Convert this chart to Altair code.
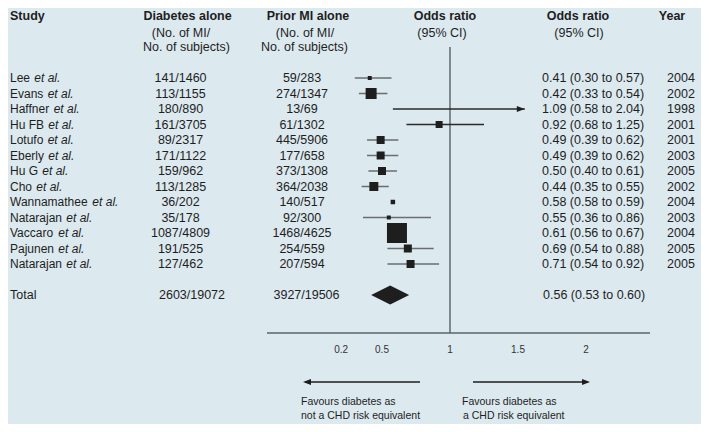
import altair as alt
import pandas as pd

# ---------------- data ----------------
study = ["Lee", "Evans", "Haffner", "Hu FB", "Lotufo", "Eberly", "Hu G", "Cho",
         "Wannamathee", "Natarajan", "Vaccaro", "Pajunen", "Natarajan"]
diabetes = ["141/1460", "113/1155", "180/890", "161/3705", "89/2317", "171/1122",
            "159/962", "113/1285", "36/202", "35/178", "1087/4809", "191/525", "127/462"]
prior_mi = ["59/283", "274/1347", "13/69", "61/1302", "445/5906", "177/658",
            "373/1308", "364/2038", "140/517", "92/300", "1468/4625", "254/559", "207/594"]
odds = [0.41, 0.42, 1.09, 0.92, 0.49, 0.49, 0.50, 0.44, 0.58, 0.55, 0.61, 0.69, 0.71]
ci_low = [0.30, 0.33, 0.58, 0.68, 0.39, 0.39, 0.40, 0.35, 0.58, 0.36, 0.56, 0.54, 0.54]
ci_high = [0.57, 0.54, 2.04, 1.25, 0.62, 0.62, 0.61, 0.55, 0.59, 0.86, 0.67, 0.88, 0.92]
year = [2004, 2002, 1998, 2001, 2001, 2003, 2005, 2002, 2004, 2003, 2004, 2005, 2005]
weight = [16, 121, 0, 49, 64, 64, 64, 81, 20, 16, 400, 64, 64]

total_diabetes = "2603/19072"
total_prior = "3927/19506"
total_or, total_lo, total_hi = 0.56, 0.53, 0.60

tick_values = [0.2, 0.5, 1, 1.5, 2]
tick_labels = ["0.2", "0.5", "1", "1.5", "2"]
display_max = 1.55  # CI drawn clipped with an arrow beyond this

# ---------------- style / layout ----------------
BG = "#dce9ef"
INK = "#1e1e1e"
FONT = "Liberation Sans"
W, H = 693, 416

# x scale: OR units; 1 at px 442, 136 px per unit
X0 = 1 - 442 / 136
X1 = X0 + W / 136
xs = alt.Scale(domain=[X0, X1], nice=False, zero=False)
# y scale: row index; row 0 at px 70, 15.5 px per row
Y0 = -70 / 15.5
Y1 = Y0 + H / 15.5
ys = alt.Scale(domain=[Y0, Y1], nice=False, zero=False, reverse=True)

ARIAL = {" ": 278, ".": 278, "/": 278, "A": 667, "B": 667, "C": 722, "D": 722, "E": 667,
         "F": 611, "G": 778, "H": 722, "L": 556, "N": 722, "P": 667, "V": 667, "W": 944,
         "T": 611, "a": 556, "b": 556, "c": 500, "d": 556, "e": 556, "f": 278, "h": 556,
         "i": 222, "j": 222, "k": 500, "l": 222, "m": 833, "n": 556, "o": 556, "p": 556,
         "r": 333, "s": 500, "t": 278, "u": 556, "v": 500, "y": 500}


def text_width(s, size):
    return sum(ARIAL.get(c, 556) for c in s) * size / 1000


STUDY_FS = 12
BODY_FS = 12.5
STUDY_X = 2

rows = pd.DataFrame({
    "row": list(range(len(study))),
    "study": study,
    "etal_x": [STUDY_X + text_width(s + " ", STUDY_FS) + 1 for s in study],
    "diabetes": diabetes,
    "prior": prior_mi,
    "odds": odds,
    "lo": ci_low,
    "hi_draw": [min(h, display_max) for h in ci_high],
    "ci_color": ["#2a2a2a" if h > 1 else "#6a6e70" for h in ci_high],
    "label": [f"{o:.2f} ({l:.2f} to {h:.2f})" for o, l, h in zip(odds, ci_low, ci_high)],
    "year": [str(y) for y in year],
    "weight": weight,
})
total_row = len(study) + 1
total = pd.DataFrame({"row": [total_row], "odds": [total_or],
                      "label": [f"{total_or:.2f} ({total_lo:.2f} to {total_hi:.2f})"]})
ticks = pd.DataFrame({"t": tick_values, "lab": tick_labels})
one = pd.DataFrame({"a": [0]})

Y = alt.Y("row:Q", scale=ys, axis=None)

layers = []

# reference line at OR = 1
layers.append(alt.Chart(pd.DataFrame({"v": [1]})).mark_rule(color="#7f898e", strokeWidth=2).encode(
    x=alt.X("v:Q", scale=xs, axis=None), y=alt.value(39), y2=alt.value(325)))
# horizontal axis line
layers.append(alt.Chart(one).mark_rule(color="#5d6468", strokeWidth=1.3).encode(
    x=alt.value(259), x2=alt.value(642), y=alt.value(325)))

# CI lines
layers.append(alt.Chart(rows).mark_rule(strokeWidth=1.5).encode(
    x=alt.X("lo:Q", scale=xs, axis=None), x2="hi_draw:Q", y=Y,
    color=alt.Color("ci_color:N", scale=None)))
# arrowhead for clipped CI
clipped = rows[[h > display_max for h in ci_high]]
layers.append(alt.Chart(clipped).mark_point(
    shape="M0,0L-2,-0.75L-2,0.75Z", size=64, filled=True, opacity=1, color=INK).encode(
    x=alt.X("hi_draw:Q", scale=xs, axis=None), y=Y))

# study boxes
layers.append(alt.Chart(rows[rows["weight"] > 0]).mark_square(
    filled=True, opacity=1, color=INK).encode(
    x=alt.X("odds:Q", scale=xs, axis=None), y=Y,
    size=alt.Size("weight:Q", scale=alt.Scale(domain=[0, 400], range=[0, 400]), legend=None)))

# pooled diamond
layers.append(alt.Chart(total).mark_point(
    shape="M-1,0L0,-0.5L1,0L0,0.5Z", size=1444, filled=True, opacity=1, color=INK).encode(
    x=alt.X("odds:Q", scale=xs, axis=None), y=Y))

# row texts
txt = dict(font=FONT, color=INK, baseline="middle")
layers.append(alt.Chart(rows).mark_text(align="left", fontSize=STUDY_FS, **txt).encode(
    x=alt.value(STUDY_X), y=Y, text="study:N"))
layers.append(alt.Chart(rows).mark_text(align="left", fontSize=STUDY_FS, fontStyle="italic", **txt).encode(
    x=alt.X("etal_x:Q", scale=None), y=Y, text=alt.value("et al.")))
layers.append(alt.Chart(rows).mark_text(align="center", fontSize=BODY_FS, **txt).encode(
    x=alt.value(172.5), y=Y, text="diabetes:N"))
layers.append(alt.Chart(rows).mark_text(align="center", fontSize=BODY_FS, **txt).encode(
    x=alt.value(294), y=Y, text="prior:N"))
layers.append(alt.Chart(rows).mark_text(align="left", fontSize=BODY_FS, **txt).encode(
    x=alt.value(534), y=Y, text="label:N"))
layers.append(alt.Chart(rows).mark_text(align="center", fontSize=BODY_FS, **txt).encode(
    x=alt.value(673), y=Y, text="year:N"))

# total row texts
layers.append(alt.Chart(total).mark_text(align="left", fontSize=BODY_FS, **txt).encode(
    x=alt.value(STUDY_X), y=Y, text=alt.value("Total")))
layers.append(alt.Chart(total).mark_text(align="center", fontSize=BODY_FS, **txt).encode(
    x=alt.value(184), y=Y, text=alt.value(total_diabetes)))
layers.append(alt.Chart(total).mark_text(align="center", fontSize=BODY_FS, **txt).encode(
    x=alt.value(298.5), y=Y, text=alt.value(total_prior)))
layers.append(alt.Chart(total).mark_text(align="left", fontSize=BODY_FS, **txt).encode(
    x=alt.value(535), y=Y, text="label:N"))

# tick labels
layers.append(alt.Chart(ticks).mark_text(
    align="center", baseline="middle", font=FONT, fontSize=10, color="#333333").encode(
    x=alt.X("t:Q", scale=xs, axis=None), y=alt.value(342), text="lab:N"))


def label(text, x, y, align="center", bold=False, size=BODY_FS):
    return alt.Chart(one).mark_text(
        align=align, baseline="middle", font=FONT, fontSize=size, color=INK,
        fontWeight="bold" if bold else "normal").encode(
        x=alt.value(x), y=alt.value(y), text=alt.value(text))


# headers
layers += [
    label("Study", STUDY_X, 8, align="left", bold=True),
    label("Diabetes alone", 179.5, 8, bold=True),
    label("(No. of MI/", 173, 25),
    label("No. of subjects)", 178.5, 39),
    label("Prior MI alone", 300, 8, bold=True),
    label("(No. of MI/", 297, 25),
    label("No. of subjects)", 296.5, 39),
    label("Odds ratio", 437, 8, bold=True),
    label("(95% CI)", 434, 25),
    label("Odds ratio", 570, 8, bold=True),
    label("(95% CI)", 571, 25),
    label("Year", 664, 8, bold=True),
]

# bottom direction arrows
layers.append(alt.Chart(one).mark_rule(color=INK, strokeWidth=1.5).encode(
    x=alt.value(297), x2=alt.value(412), y=alt.value(374)))
layers.append(alt.Chart(one).mark_point(
    shape="M0,0L2,-0.75L2,0.75Z", size=64, filled=True, opacity=1, color=INK).encode(
    x=alt.value(295), y=alt.value(374)))
layers.append(alt.Chart(one).mark_rule(color=INK, strokeWidth=1.5).encode(
    x=alt.value(465), x2=alt.value(580), y=alt.value(374)))
layers.append(alt.Chart(one).mark_point(
    shape="M0,0L-2,-0.75L-2,0.75Z", size=64, filled=True, opacity=1, color=INK).encode(
    x=alt.value(582), y=alt.value(374)))
layers += [
    label("Favours diabetes as", 293, 394, align="left", size=10.5),
    label("not a CHD risk equivalent", 293, 408, align="left", size=10.5),
    label("Favours diabetes as", 454, 394, align="left", size=10.5),
    label("a CHD risk equivalent", 455, 408, align="left", size=10.5),
]

chart = alt.layer(*layers).properties(
    width=W, height=H, padding=0, autosize="none", background=BG
).configure_view(stroke=None)

chart.save("out.html", embed_options={"renderer": "svg", "actions": False})
